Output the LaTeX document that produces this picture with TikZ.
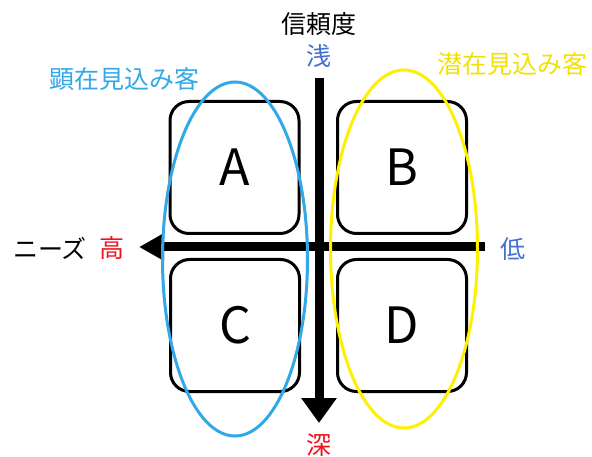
\documentclass[tikz,border=0pt]{standalone}
\usepackage{fontspec}
\setmainfont{Noto Sans CJK JP}
\usetikzlibrary{arrows.meta}
\definecolor{skyb}{HTML}{33A8E8}
\definecolor{royb}{HTML}{4470D0}
\definecolor{yel}{HTML}{FFF000}
\definecolor{yeltxt}{HTML}{F2E200}
\definecolor{redt}{HTML}{F01020}
\tikzset{
  quad/.style={draw=black, line width=3pt, rounded corners=19pt, minimum width=129pt, minimum height=132pt, inner sep=0pt, font=\fontsize{50}{56}\selectfont},
  lbl/.style={inner sep=0pt, font=\fontsize{25}{30}\selectfont},
  axis/.style={line width=9pt},
  ring/.style={line width=3pt}
}
\begin{document}
\begin{tikzpicture}[x=1pt,y=-1pt]
\useasboundingbox (0,0) rectangle (592,457);
% quadrant boxes
\node[quad] (A) at (234.5,167.5) {A};
\node[quad] (B) at (402,167.5) {B};
\node[quad] (C) at (235,325.5) {C};
\node[quad] (D) at (402,325.5) {D};
% axes
\coordinate (hR) at (485,247);
\coordinate (hL) at (139,247);
\coordinate (vT) at (319,78);
\coordinate (vB) at (319,423);
\draw[axis, -{Triangle[length=25pt,width=26pt]}] (hR) -- (hL);
\draw[axis, -{Triangle[length=25pt,width=34pt]}] (vT) -- (vB);
% ellipses
\draw[ring, skyb] (235,259) ellipse [x radius=72.5, y radius=177];
\draw[ring, yel] (404,249) ellipse [x radius=73.5, y radius=179];
% labels
\node[lbl, black] (trust) at (319,24) {信頼度};
\node[lbl, royb] (shallow) at (319,56) {浅};
\node[lbl, redt] (deep) at (319,445) {深};
\node[lbl, black] (needs) at (50,248) {ニーズ};
\node[lbl, redt] (high) at (112,248) {高};
\node[lbl, royb] (low) at (513,249) {低};
\node[lbl, skyb] (kenzai) at (124,79) {顕在見込み客};
\node[lbl, yeltxt] (senzai) at (512,64) {潜在見込み客};
\end{tikzpicture}
\end{document}
